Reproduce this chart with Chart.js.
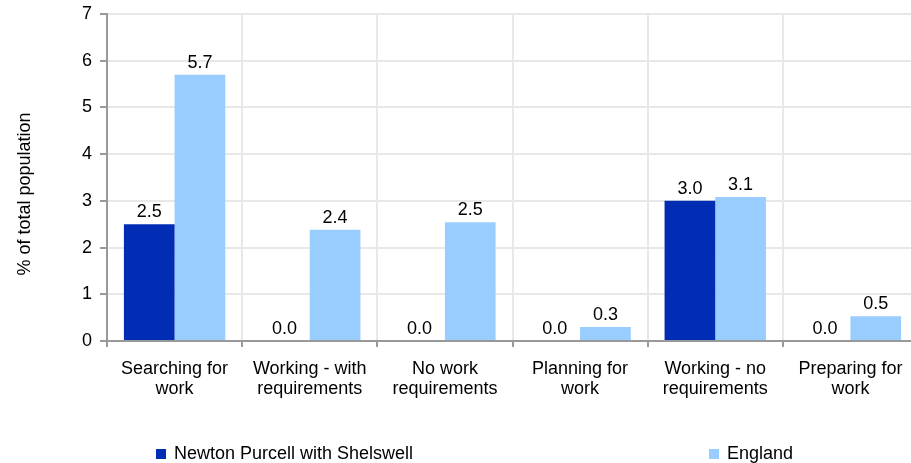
<!DOCTYPE html>
<html>
<head>
<meta charset="utf-8">
<script src="https://cdn.jsdelivr.net/npm/chart.js@4"></script>
<style>
  body { margin: 0; overflow: hidden; background: #fff; }
  #wrap { position: relative; width: 911px; height: 463px; overflow: hidden; }
</style>
</head>
<body>
<div id="wrap">
  <canvas id="grafico" width="918" height="463"></canvas>
</div>
<script>
const categorias = [
  ["Searching for", "work"],
  ["Working - with", "requirements"],
  ["No work", "requirements"],
  ["Planning for", "work"],
  ["Working - no", "requirements"],
  ["Preparing for", "work"]
];
const series = ["Newton Purcell with Shelswell", "England"];
const newtonValores = [2.5, 0, 0, 0, 3.0, 0];
const englandValores = [5.7, 2.38, 2.54, 0.3, 3.08, 0.53];
const yTicks = [0, 1, 2, 3, 4, 5, 6, 7];

const cores = ["#002db3", "#99ccff"];
const FAMILIA = "'Liberation Sans', Arial, sans-serif";
const fonte = { family: FAMILIA, size: 18, lineHeight: 1.1 };

// rótulos de valor em cima das barras
const rotulosPlugin = {
  id: "rotulos",
  afterDatasetsDraw(chart) {
    const ctx = chart.ctx;
    ctx.save();
    ctx.font = "18px " + FAMILIA;
    ctx.fillStyle = "#000";
    ctx.textAlign = "center";
    ctx.textBaseline = "alphabetic";
    chart.data.datasets.forEach((ds, i) => {
      chart.getDatasetMeta(i).data.forEach((bar, j) => {
        ctx.fillText(ds.data[j].toFixed(1), bar.x, bar.y - 7);
      });
    });
    ctx.restore();
  }
};

// título do eixo y + legenda
const extrasPlugin = {
  id: "extras",
  afterDraw(chart) {
    const ctx = chart.ctx;
    ctx.save();
    ctx.font = "18px " + FAMILIA;
    ctx.fillStyle = "#000";

    ctx.translate(25, 194);
    ctx.rotate(-Math.PI / 2);
    ctx.textAlign = "center";
    ctx.textBaseline = "middle";
    ctx.fillText("% of total population", 0, 0);
    ctx.setTransform(1, 0, 0, 1, 0, 0);

    const posX = [156, 709];
    ctx.textAlign = "left";
    ctx.textBaseline = "alphabetic";
    series.forEach((nome, i) => {
      ctx.fillStyle = cores[i];
      ctx.fillRect(posX[i], 449, 10, 10);
      ctx.fillStyle = "#000";
      ctx.fillText(nome, posX[i] + 18, 459);
    });
    ctx.restore();
  }
};

new Chart(document.getElementById("grafico"), {
  type: "bar",
  data: {
    labels: categorias,
    datasets: [
      { label: series[0], data: newtonValores, backgroundColor: cores[0] },
      { label: series[1], data: englandValores, backgroundColor: cores[1] }
    ]
  },
  options: {
    responsive: false,
    animation: false,
    layout: { padding: { top: 14, right: 0, bottom: 0, left: 0 } },
    datasets: { bar: { categoryPercentage: 0.75, barPercentage: 1.0 } },
    plugins: { legend: { display: false }, tooltip: { enabled: false } },
    scales: {
      x: {
        grid: { color: "#e8e8e8", lineWidth: 2, tickColor: "#999", tickLength: 6, offset: true },
        border: { color: "#999", width: 2 },
        ticks: { color: "#000", font: fonte, padding: 12, maxRotation: 0 },
        afterFit(scale) { scale.height = 122; }
      },
      y: {
        min: 0,
        max: 7,
        afterBuildTicks(scale) { scale.ticks = yTicks.map(v => ({ value: v })); },
        grid: { color: "#e8e8e8", lineWidth: 2, tickColor: "#999", tickLength: 7 },
        border: { color: "#999", width: 2 },
        ticks: { color: "#000", font: fonte, padding: 8 },
        afterFit(scale) {
          scale.width = 107;
          scale.paddingTop = 0;
          scale.paddingBottom = 0;
        }
      }
    }
  },
  plugins: [rotulosPlugin, extrasPlugin]
});
</script>
</body>
</html>
